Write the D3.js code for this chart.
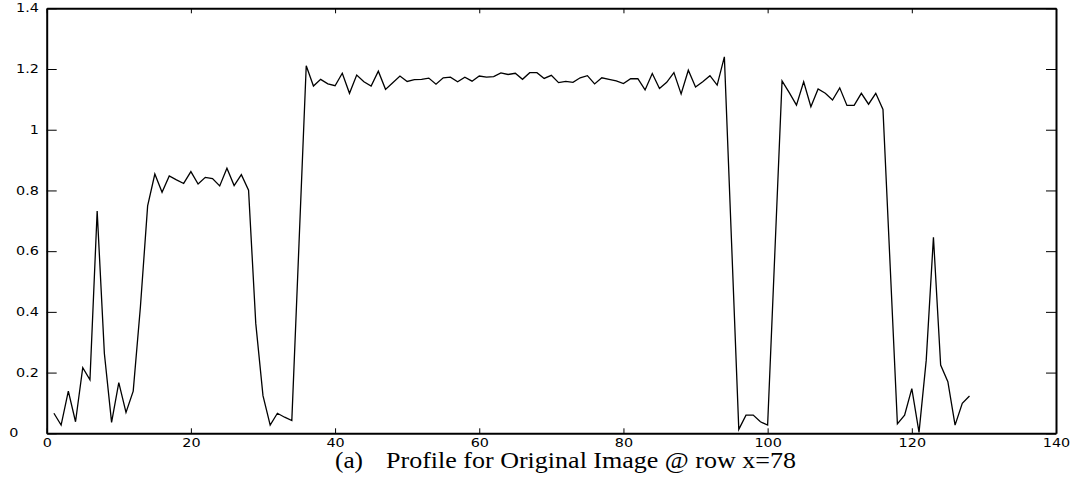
<!DOCTYPE html>
<html lang="en">
<head>
<meta charset="UTF-8">
<title>Profile for Original Image</title>
<script src="https://cdn.jsdelivr.net/npm/d3@7"></script>
<style>
  body { margin: 0; background: #fff; }
  .tick text { font-family: "DejaVu Sans", sans-serif; font-size: 11.5px; fill: #000; }
</style>
</head>
<body>
<script>
// profile samples, row x=78 (pixel index 1..128)
const sampleIndex = d3.range(1, 129)
const profileValues = [
  0.066, 0.027, 0.139, 0.038, 0.216, 0.176, 0.732, 0.263, 0.036, 0.167,
  0.069, 0.139, 0.417, 0.749, 0.854, 0.794, 0.848, 0.835, 0.823, 0.862,
  0.821, 0.843, 0.839, 0.815, 0.873, 0.816, 0.852, 0.801, 0.362, 0.124,
  0.027, 0.066, 0.053, 0.042, 0.626, 1.211, 1.144, 1.166, 1.151, 1.145,
  1.186, 1.120, 1.180, 1.158, 1.144, 1.193, 1.133, 1.155, 1.177, 1.159,
  1.165, 1.166, 1.170, 1.150, 1.171, 1.173, 1.158, 1.173, 1.160, 1.177,
  1.173, 1.175, 1.187, 1.182, 1.186, 1.166, 1.188, 1.188, 1.169, 1.179,
  1.155, 1.159, 1.156, 1.171, 1.178, 1.151, 1.171, 1.166, 1.161, 1.152,
  1.168, 1.168, 1.131, 1.185, 1.136, 1.156, 1.188, 1.118, 1.196, 1.141,
  1.158, 1.178, 1.147, 1.240, 0.627, 0.013, 0.060, 0.060, 0.038, 0.027,
  0.594, 1.161, 1.122, 1.081, 1.158, 1.076, 1.134, 1.120, 1.098, 1.138,
  1.080, 1.080, 1.120, 1.084, 1.120, 1.067, 0.550, 0.031, 0.060, 0.147,
  0.003, 0.241, 0.646, 0.225, 0.170, 0.027, 0.099, 0.123
]
const xTicks = [0, 20, 40, 60, 80, 100, 120, 140]
const yTicks = [0, 0.2, 0.4, 0.6, 0.8, 1, 1.2, 1.4]
const caption = ['(a)', 'Profile for Original Image @ row x=78']

const width = 1081
const height = 490
const margin = { top: 8.3, right: 25, bottom: 56.7, left: 46.7 }

const svg = d3.select('body').append('svg')
  .attr('width', width)
  .attr('height', height)

svg.append('rect').attr('width', width).attr('height', height).attr('fill', '#fff')

const xScale = d3.scaleLinear()
  .domain([0, 140])
  .range([margin.left, width - margin.right])

const yScale = d3.scaleLinear()
  .domain([0, 1.4])
  .range([height - margin.bottom, margin.top])

// axes: ticks point inward, mirrored on top and right
const xBottom = d3.axisBottom(xScale).tickValues(xTicks).tickSizeInner(-5).tickSizeOuter(0).tickPadding(11).tickFormat(d3.format('d'))
const xTop = d3.axisTop(xScale).tickValues(xTicks).tickSizeInner(-5).tickSizeOuter(0).tickFormat('')
const yLeft = d3.axisLeft(yScale).tickValues(yTicks).tickSizeInner(-10).tickSizeOuter(0).tickPadding(8).tickFormat(d => d === 0 ? '0' : d3.format('.1~f')(d))
const yRight = d3.axisRight(yScale).tickValues(yTicks).tickSizeInner(-10).tickSizeOuter(0).tickFormat('')

const gxb = svg.append('g').attr('transform', `translate(0,${yScale(0)})`).call(xBottom)
const gxt = svg.append('g').attr('transform', `translate(0,${yScale(1.4)})`).call(xTop)
const gyl = svg.append('g').attr('transform', `translate(${xScale(0)},0)`).call(yLeft)
const gyr = svg.append('g').attr('transform', `translate(${xScale(140)},0)`).call(yRight)

svg.selectAll('.domain').attr('stroke', '#000').attr('stroke-width', 2)
svg.selectAll('.tick line').attr('stroke', '#000').attr('stroke-width', 1)

gxb.selectAll('.tick text')
  .attr('transform', 'scale(1.25,1)')
  .attr('dy', '0.71em')
  .attr('y', 6)

gyl.selectAll('.tick text')
  .attr('transform', 'scale(1.25,1)')
  .attr('x', -6.2)
  .filter(d => d === 0)
  .attr('text-anchor', 'start')
  .attr('x', -30)

// profile line
const line = d3.line()
  .x((d, i) => xScale(sampleIndex[i]))
  .y(d => yScale(d))

svg.append('path')
  .datum(profileValues)
  .attr('fill', 'none')
  .attr('stroke', '#000')
  .attr('stroke-width', 1.3)
  .attr('stroke-linejoin', 'miter')
  .attr('d', line)

// caption
svg.append('text')
  .attr('x', 335)
  .attr('y', 468)
  .attr('font-family', '"Liberation Serif", "Times New Roman", serif')
  .attr('font-size', 22.5)
  .attr('textLength', 28)
  .attr('lengthAdjust', 'spacingAndGlyphs')
  .text(caption[0])

svg.append('text')
  .attr('x', 386)
  .attr('y', 468)
  .attr('font-family', '"Liberation Serif", "Times New Roman", serif')
  .attr('font-size', 22.5)
  .attr('textLength', 410)
  .attr('lengthAdjust', 'spacingAndGlyphs')
  .text(caption[1])
</script>
</body>
</html>
